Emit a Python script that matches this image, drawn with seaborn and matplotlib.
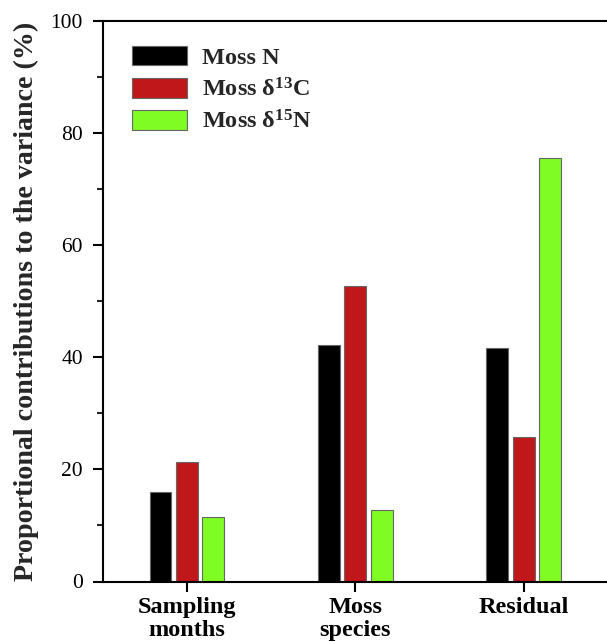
# variance partition of moss N, d13C, d15N
import pandas as pd
import matplotlib
matplotlib.use("Agg")
import matplotlib.pyplot as plt
import seaborn as sns
from matplotlib.ticker import MultipleLocator

# --- data ---
factors = ["Sampling\nmonths", "Moss\nspecies", "Residual"]
series_names = ["Moss N", r"Moss $\mathrm{\delta}^{13}$C", r"Moss $\mathrm{\delta}^{15}$N"]
moss_n = [15.9, 42.2, 41.7]
moss_d13c = [21.3, 52.7, 25.7]
moss_d15n = [11.5, 12.7, 75.6]
bar_colors = ["#000000", "#C0181A", "#7FFC24"]

rows = []
for name, vals in zip(series_names, [moss_n, moss_d13c, moss_d15n]):
    for f, v in zip(factors, vals):
        rows.append({"factor": f, "series": name, "value": v})
df = pd.DataFrame(rows)

sns.set_style("ticks")
plt.rcParams["font.family"] = ["Liberation Serif", "DejaVu Serif"]
plt.rcParams["mathtext.fontset"] = "custom"
plt.rcParams["mathtext.rm"] = "Liberation Serif:bold"
plt.rcParams["mathtext.it"] = "Liberation Serif:bold"
plt.rcParams["mathtext.bf"] = "Liberation Serif:bold"

fig = plt.figure(figsize=(6.07, 6.42), dpi=100)
# axes runs off the right edge like the cropped original
ax = fig.add_axes([102.7 / 607, 60.5 / 642, 537.3 / 607, 560.8 / 642])

sns.barplot(data=df, x="factor", y="value", hue="series",
            hue_order=series_names, order=factors,
            palette=bar_colors, saturation=1, width=0.47, gap=0.17,
            edgecolor="#666666", linewidth=0.8, ax=ax)

ax.set_ylim(0, 100)
ax.set_xlim(-0.5, 2.69)
ax.yaxis.set_major_locator(MultipleLocator(20))
ax.yaxis.set_minor_locator(MultipleLocator(10))

for side in ["left", "bottom", "top"]:
    ax.spines[side].set_visible(True)
    ax.spines[side].set_linewidth(1.5)
    ax.spines[side].set_color("black")
ax.spines["right"].set_visible(False)

ax.tick_params(axis="both", which="major", direction="out", length=7.2,
               width=1.5, labelsize=15.5, colors="black")
ax.tick_params(axis="y", which="major", pad=7)
ax.tick_params(axis="x", which="major", pad=4)
ax.tick_params(axis="y", which="minor", direction="out", length=4, width=1.5)
for lab in ax.get_xticklabels():
    lab.set_fontweight("bold")
    lab.set_fontsize(17.5)
    lab.set_linespacing(1.1)

ax.set_xlabel("")
ax.set_ylabel("Proportional contributions to the variance (%)",
              fontsize=20.2, fontweight="bold", labelpad=8)

leg = ax.legend(loc="upper left", bbox_to_anchor=(0.055, 0.955),
                frameon=False, borderpad=0, borderaxespad=0,
                handlelength=2.26, handleheight=0.85, handletextpad=0.59,
                labelspacing=0.37, prop={"weight": "bold", "size": 17.5})

plt.savefig("out.png", dpi=100)
